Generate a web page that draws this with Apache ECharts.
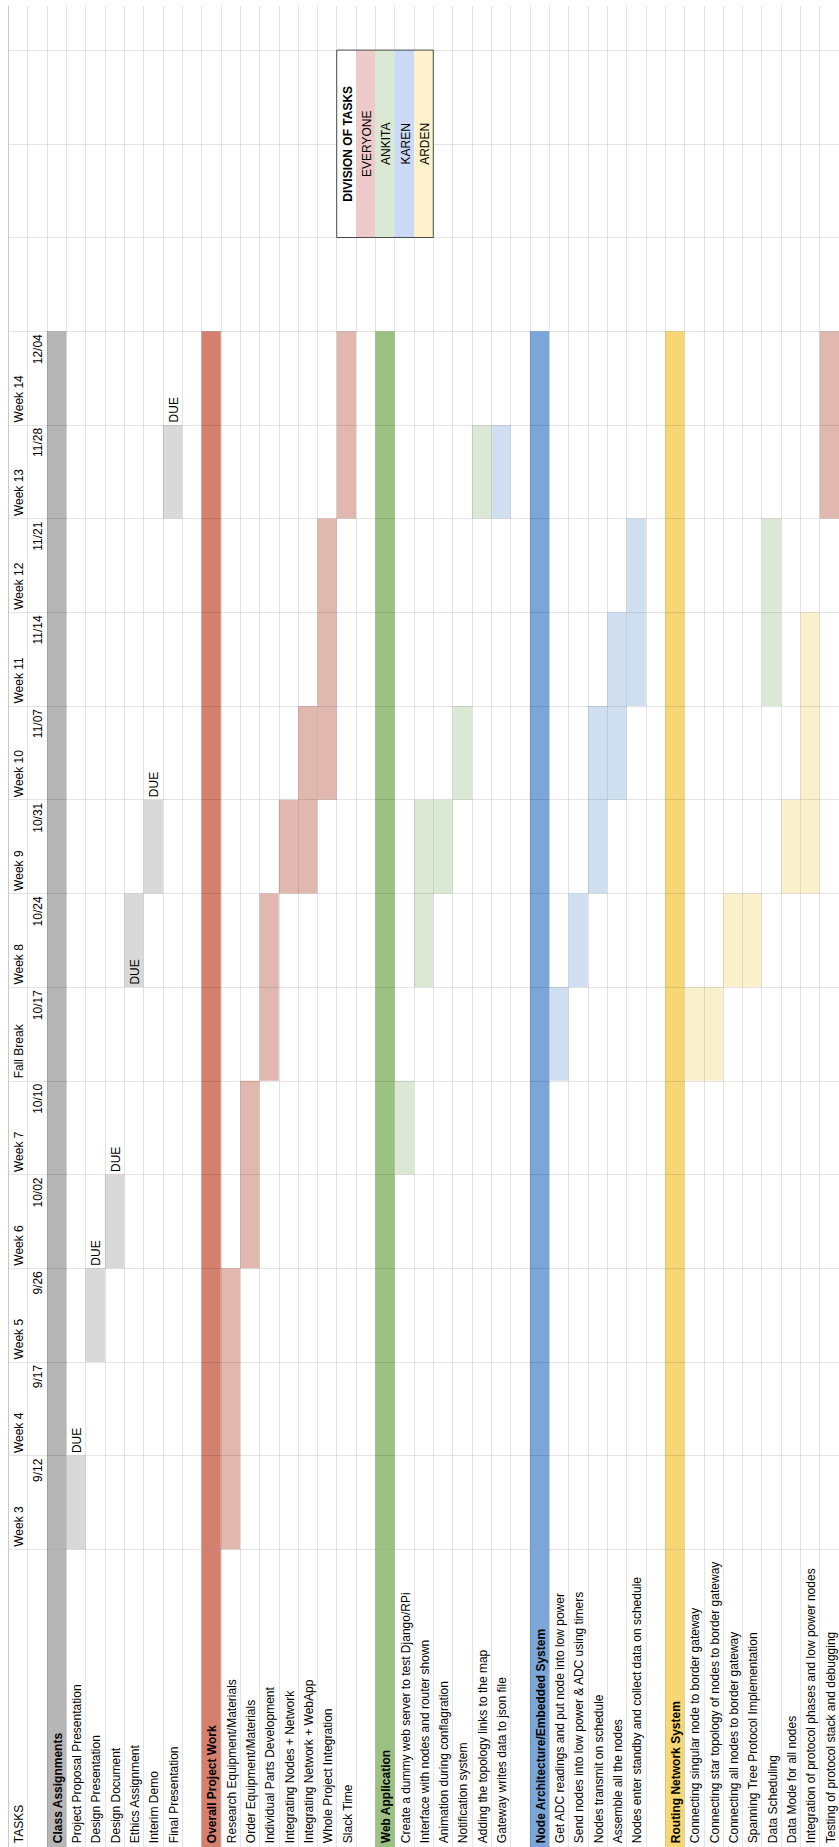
<!DOCTYPE html>
<html>
<head>
<meta charset="utf-8">
<title>Project Schedule</title>
<script src="https://cdn.jsdelivr.net/npm/echarts@6.0.0/dist/echarts.min.js"></script>
<style>
  html, body { margin: 0; padding: 0; background: #ffffff; }
  #chart { width: 839px; height: 1847px; }
</style>
</head>
<body>
<div id="chart"></div>
<script>
// ---- schedule data ----
// rows of the timeline, earliest first
const weekLabels = ['Week 3', 'Week 4', 'Week 5', 'Week 6', 'Week 7', 'Fall Break',
  'Week 8', 'Week 9', 'Week 10', 'Week 11', 'Week 12', 'Week 13', 'Week 14'];
const weekDates = ['9/12', '9/17', '9/26', '10/02', '10/10', '10/17',
  '10/24', '10/31', '11/07', '11/14', '11/21', '11/28', '12/04'];

// task columns ('' = spacer column between sections)
const taskNames = [
  'Class Assignments', 'Project Proposal Presentation', 'Design Presentation', 'Design Document',
  'Ethics Assignment', 'Interim Demo', 'Final Presentation', '',
  'Overall Project Work', 'Research Equipment/Materials', 'Order Equipment/Materials',
  'Individual Parts Development', 'Integrating Nodes + Network', 'Integrating Network + WebApp',
  'Whole Project Integration', 'Slack Time', '',
  'Web Application', 'Create a dummy web server to test Django/RPi', 'Interface with nodes and router shown',
  'Animation during conflagration', 'Notification system', 'Adding the topology links to the map',
  'Gateway writes data to json file', '',
  'Node Architecture/Embedded System', 'Get ADC readings and put node into low power',
  'Send nodes into low power & ADC using timers', 'Nodes transmit on schedule', 'Assemble all the nodes',
  'Nodes enter standby and collect data on schedule', '',
  'Routing Network System', 'Connecting singular node to border gateway',
  'Connecting star topology of nodes to border gateway', 'Connecting all nodes to border gateway',
  'Spanning Tree Protocol Implementation', 'Data Scheduling', 'Data Mode for all nodes',
  'Integration of protocol phases and low power nodes', 'Testing of protocol stack and debugging'
];

const sectionHeaders = ['Class Assignments', 'Overall Project Work', 'Web Application',
  'Node Architecture/Embedded System', 'Routing Network System'];
const sectionColors = ['#b6b6b6', '#d3806f', '#9cc283', '#7ca6d7', '#f7d775'];

// [task, first week row, last week row, who]
const schedule = [
  ['Project Proposal Presentation', 0, 0, 'CLASS'],
  ['Design Presentation', 2, 2, 'CLASS'],
  ['Design Document', 3, 3, 'CLASS'],
  ['Ethics Assignment', 6, 6, 'CLASS'],
  ['Interim Demo', 7, 7, 'CLASS'],
  ['Final Presentation', 11, 11, 'CLASS'],
  ['Research Equipment/Materials', 0, 2, 'EVERYONE'],
  ['Order Equipment/Materials', 3, 4, 'EVERYONE'],
  ['Individual Parts Development', 5, 6, 'EVERYONE'],
  ['Integrating Nodes + Network', 7, 7, 'EVERYONE'],
  ['Integrating Network + WebApp', 7, 8, 'EVERYONE'],
  ['Whole Project Integration', 8, 10, 'EVERYONE'],
  ['Slack Time', 11, 12, 'EVERYONE'],
  ['Create a dummy web server to test Django/RPi', 4, 4, 'ANKITA'],
  ['Interface with nodes and router shown', 6, 7, 'ANKITA'],
  ['Animation during conflagration', 7, 7, 'ANKITA'],
  ['Notification system', 8, 8, 'ANKITA'],
  ['Adding the topology links to the map', 11, 11, 'ANKITA'],
  ['Gateway writes data to json file', 11, 11, 'KAREN'],
  ['Get ADC readings and put node into low power', 5, 5, 'KAREN'],
  ['Send nodes into low power & ADC using timers', 6, 6, 'KAREN'],
  ['Nodes transmit on schedule', 7, 8, 'KAREN'],
  ['Assemble all the nodes', 8, 9, 'KAREN'],
  ['Nodes enter standby and collect data on schedule', 9, 10, 'KAREN'],
  ['Connecting singular node to border gateway', 5, 5, 'ARDEN'],
  ['Connecting star topology of nodes to border gateway', 5, 5, 'ARDEN'],
  ['Connecting all nodes to border gateway', 6, 6, 'ARDEN'],
  ['Spanning Tree Protocol Implementation', 6, 6, 'ARDEN'],
  ['Data Scheduling', 9, 10, 'ANKITA'],
  ['Data Mode for all nodes', 7, 7, 'ARDEN'],
  ['Integration of protocol phases and low power nodes', 7, 9, 'ARDEN'],
  ['Testing of protocol stack and debugging', 11, 12, 'EVERYONE']
];

// [task, week row carrying the "DUE" marker]
const dueMarkers = [
  ['Project Proposal Presentation', 1],
  ['Design Presentation', 3],
  ['Design Document', 4],
  ['Ethics Assignment', 6],
  ['Interim Demo', 8],
  ['Final Presentation', 12]
];

const legendTitle = 'DIVISION OF TASKS';
const legendNames = ['EVERYONE', 'ANKITA', 'KAREN', 'ARDEN'];

// ---- styling / layout ----
const FONT = '"Liberation Sans", Arial, Helvetica, sans-serif';
const TEXT_COLOR = '#000000';
const GRID_LINE = 'rgba(0,0,0,0.105)';
const ownerFill = { CLASS: '#d9d9d9', EVERYONE: '#e1b8af', ANKITA: '#dbe8d3', KAREN: '#cfdff0', ARDEN: '#fbf0cc' };
const legendFill = { EVERYONE: '#eecaca', ANKITA: '#d9e9d3', KAREN: '#c9d9f6', ARDEN: '#fdf2cc' };

const GRID_LEFT = 8.3;
const COL_W = 19.35;
const N_COL = taskNames.length + 2;   // week column + date column + tasks
const TOP = 6;
const WEEK_BOTTOM = 1549.3;
const ROW_H = 93.7;
const NAME_BOTTOM = 1849.3;
const LEGEND_COL = 17, LEGEND_FROM = 14, LEGEND_TO = 16;

const colIds = Array.from({ length: N_COL }, (_, i) => String(i));
const colOf = name => 2 + taskNames.indexOf(name);

// ---- series data ----
const headerCells = sectionHeaders.map((name, i) => ({
  value: [colOf(name), 0, weekLabels.length], itemStyle: { color: sectionColors[i] }
}));
const taskCells = schedule.map(([name, from, to, who]) => ({
  value: [colOf(name), from, to + 1], itemStyle: { color: ownerFill[who] }
}));
const headerNameCells = sectionHeaders.map((name, i) => ({
  value: [colOf(name), 0, 1], itemStyle: { color: sectionColors[i] }
}));

const weekLabelData = weekLabels.map((t, i) => [0, i]);
const dateLabelData = weekDates.map((t, i) => [1, i + 1]);
const dueData = dueMarkers.map(([name, row]) => [colOf(name), row]);
const nameLabels = ['TASKS'].concat(taskNames);
const nameData = nameLabels.map((t, i) => [i === 0 ? 0 : i + 1, 0]);

const legendLabels = [legendTitle].concat(legendNames);
const legendColors = ['#ffffff'].concat(legendNames.map(n => legendFill[n]));
const legendData = legendLabels.map((t, i) => [LEGEND_COL + i, LEGEND_FROM, LEGEND_TO]);

// ---- render helpers ----
function cellShape(api, col, from, to) {
  const lo = api.coord([col, from]);
  const hi = api.coord([col, to]);
  const w = api.size([1, 0])[0];
  return { x: lo[0] - w / 2, y: hi[1], width: w, height: lo[1] - hi[1] };
}

function renderCell(params, api) {
  return {
    type: 'rect',
    shape: cellShape(api, api.value(0), api.value(1), api.value(2)),
    style: { fill: api.visual('color') }
  };
}

function verticalText(api, col, val, text, align, dy, bold) {
  const p = api.coord([col, val]);
  return {
    type: 'text',
    x: p[0] + 1.2,
    y: p[1] + dy,
    rotation: Math.PI / 2,
    style: {
      text: text,
      textAlign: align,
      textVerticalAlign: 'middle',
      font: (bold ? 'bold ' : '') + '12px ' + FONT,
      fill: TEXT_COLOR
    }
  };
}

function textSeries(id, xi, data, make) {
  return {
    id: id, type: 'custom', xAxisIndex: xi, yAxisIndex: xi, z: 6, silent: true,
    data: data, renderItem: make
  };
}

const hiddenAxisParts = { axisTick: { show: false }, axisLabel: { show: false } };

const option = {
  backgroundColor: '#ffffff',
  animation: false,
  grid: [
    { left: GRID_LEFT, top: TOP, width: COL_W * N_COL, height: WEEK_BOTTOM - TOP },
    { left: GRID_LEFT, top: WEEK_BOTTOM, width: COL_W * N_COL, height: NAME_BOTTOM - WEEK_BOTTOM }
  ],
  xAxis: [0, 1].map(g => Object.assign({
    type: 'category', gridIndex: g, data: colIds, boundaryGap: true, z: 4,
    axisLine: { show: false },
    splitLine: { show: true, interval: 0, lineStyle: { color: GRID_LINE, width: 1 } }
  }, hiddenAxisParts)),
  yAxis: [
    Object.assign({
      type: 'value', gridIndex: 0, min: 0, max: (WEEK_BOTTOM - TOP) / ROW_H, interval: 1, z: 4,
      axisLine: { show: true, lineStyle: { color: '#c9c9c9', width: 1 } },
      splitLine: { show: true, showMaxLine: false, lineStyle: { color: GRID_LINE, width: 1 } }
    }, hiddenAxisParts),
    Object.assign({
      type: 'value', gridIndex: 1, min: 0, max: 1, z: 4,
      axisLine: { show: true, lineStyle: { color: '#c9c9c9', width: 1 } },
      splitLine: { show: false }
    }, hiddenAxisParts)
  ],
  series: [
    { id: 'timeline', type: 'custom', xAxisIndex: 0, yAxisIndex: 0, z: 2, silent: true,
      data: headerCells.concat(taskCells), renderItem: renderCell },
    { id: 'headerNames', type: 'custom', xAxisIndex: 1, yAxisIndex: 1, z: 2, silent: true,
      data: headerNameCells, renderItem: renderCell },
    textSeries('weeks', 0, weekLabelData, (params, api) =>
      verticalText(api, api.value(0), api.value(1), weekLabels[params.dataIndex], 'left', -2.5, false)),
    textSeries('dates', 0, dateLabelData, (params, api) =>
      verticalText(api, api.value(0), api.value(1), weekDates[params.dataIndex], 'right', 3, false)),
    textSeries('due', 0, dueData, (params, api) =>
      verticalText(api, api.value(0), api.value(1), 'DUE', 'left', -2.5, false)),
    textSeries('names', 1, nameData, (params, api) => {
      const t = nameLabels[params.dataIndex];
      return verticalText(api, api.value(0), api.value(1), t, 'left', -3.8, sectionHeaders.indexOf(t) >= 0);
    }),
    {
      id: 'division', type: 'custom', xAxisIndex: 0, yAxisIndex: 0, z: 8, silent: true,
      data: legendData,
      renderItem: (params, api) => {
        const i = params.dataIndex;
        const col = api.value(0), from = api.value(1), to = api.value(2);
        const children = [
          { type: 'rect', shape: cellShape(api, col, from, to), style: { fill: legendColors[i] } },
          verticalText(api, col, (from + to) / 2, legendLabels[i], 'center', 0, i === 0)
        ];
        if (i === legendLabels.length - 1) {
          const first = cellShape(api, LEGEND_COL, from, to);
          const last = cellShape(api, col, from, to);
          children.push({
            type: 'rect',
            shape: { x: first.x, y: first.y, width: last.x + last.width - first.x, height: first.height },
            style: { fill: null, stroke: '#4a4a4a', lineWidth: 1 }
          });
        }
        return { type: 'group', children: children };
      }
    }
  ]
};

const chart = echarts.init(document.getElementById('chart'), null, { renderer: 'svg' });
chart.setOption(option);
</script>
</body>
</html>
